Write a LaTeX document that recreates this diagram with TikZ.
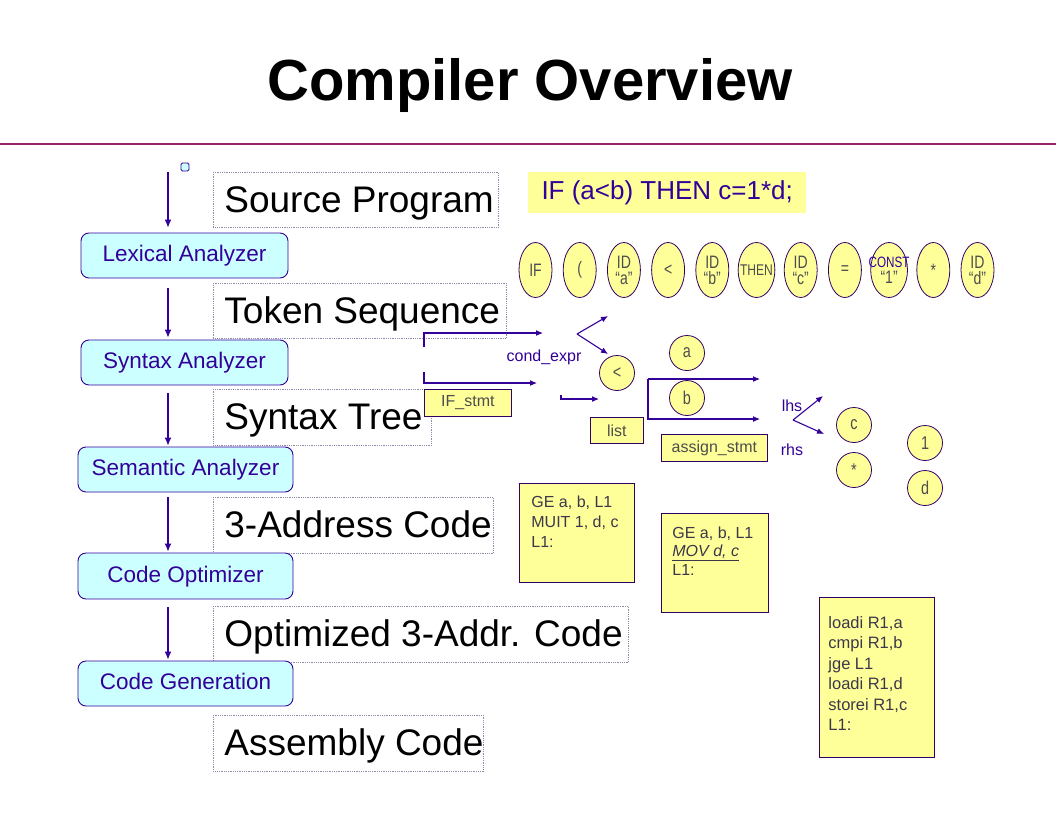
\documentclass[tikz,border=0pt]{standalone}
\usepackage{fontspec}
\setmainfont{Liberation Sans}
\newfontfamily\condfont[FakeStretch=0.78]{Liberation Sans}
\usetikzlibrary{arrows.meta,calc,shapes.geometric}
\definecolor{ink}{RGB}{51,0,153}
\definecolor{edgecol}{RGB}{51,0,102}
\definecolor{cyanfill}{RGB}{204,255,255}
\definecolor{yellowfill}{RGB}{255,255,153}
\definecolor{rulecol}{RGB}{153,32,110}
\definecolor{graytext}{RGB}{77,77,77}
\definecolor{codetext}{RGB}{60,55,75}
\definecolor{dotcol}{RGB}{140,140,170}
% a left-aligned label inside a fixed-width frame
\newcommand{\stagelabel}[2]{\makebox[#1][l]{\hspace*{11pt}#2}}
% text that may spill over the edge of its token
\newcommand{\spill}[1]{\makebox[26pt][c]{#1}}

\begin{document}
\begin{tikzpicture}[x=1pt,y=-1pt,
  phase/.style={draw=ink, fill=cyanfill, rounded corners=8pt, line width=0.9pt,
    minimum height=45pt, inner sep=0pt, text=ink, text height=16.5pt, text depth=4.5pt,
    font=\fontsize{22.5}{26}\selectfont},
  stage/.style={draw=dotcol, densely dotted, line width=0.8pt, anchor=north west,
    inner sep=0pt, text height=30pt, text depth=5pt,
    font=\fontsize{37}{44}\selectfont},
  flow/.style={draw=ink, line width=1.2pt, -{Latex[length=8pt,width=7pt]}},
  treeflow/.style={draw=ink, line width=1.1pt, -{Latex[length=7pt,width=6pt]}},
  token/.style={ellipse, draw=edgecol, fill=yellowfill, line width=0.8pt,
    minimum width=33pt, minimum height=55pt, inner sep=0pt, text=graytext,
    align=center, font=\condfont\fontsize{18}{16}\selectfont},
  leaf/.style={circle, draw=edgecol, fill=yellowfill, line width=0.8pt,
    minimum size=35pt, inner sep=0pt, text=graytext,
    font=\condfont\fontsize{18.5}{18}\selectfont},
  tag/.style={draw=edgecol, fill=yellowfill, line width=0.8pt, inner sep=0pt,
    anchor=north west, text=graytext, font=\fontsize{16}{16}\selectfont},
  codebox/.style={draw=edgecol, fill=yellowfill, line width=0.8pt, anchor=north west,
    inner ysep=0pt, text=codetext},
  edgelabel/.style={text=ink, font=\fontsize{16}{16}\selectfont, inner sep=0pt},
]
\fill[white] (0,0) rectangle (1056,816);
\useasboundingbox (0,0) rectangle (1056,816);

% title and rule
\node[anchor=base, font=\bfseries\fontsize{58}{60}\selectfont] (title) at (530,100) {Compiler Overview};
\draw[rulecol, line width=2.2pt] (0,144) -- (1056,144);

% intermediate forms
\node[stage, minimum height=55pt] (srcP) at (213,172) {\stagelabel{285pt}{Source Program}};
\node[stage, minimum height=55pt] (tok)  at (213,283) {\stagelabel{293pt}{Token Sequence}};
\node[stage, minimum height=56pt] (tree) at (213,389) {\stagelabel{218pt}{Syntax Tree}};
\node[stage, minimum height=56pt] (tac)  at (213,497) {\stagelabel{280pt}{3-Address Code}};
\node[stage, minimum height=56pt] (otac) at (213,606) {\stagelabel{415pt}{Optimized 3-Addr. Code}};
\node[stage, minimum height=56pt] (asm)  at (213,715) {\stagelabel{270pt}{Assembly Code}};

% compiler phases
\node[draw=ink, fill=cyanfill, rounded corners=1.5pt, minimum size=8pt, inner sep=0pt, line width=0.8pt] (start) at (185,167) {};
\node[phase, minimum width=207pt] (lex) at (184.5,255.5) {Lexical Analyzer};
\node[phase, minimum width=207pt] (syn) at (184.5,362.5) {Syntax Analyzer};
\node[phase, minimum width=215pt] (sem) at (185.5,469.5) {Semantic Analyzer};
\node[phase, minimum width=215pt, minimum height=46pt] (opt) at (185.5,576) {Code Optimizer};
\node[phase, minimum width=215pt] (gen) at (185.5,683.5) {Code Generation};

\coordinate (src) at (168,172);
\coordinate (ax) at (168,0);
\draw[flow, shorten >=5pt] (src) -- (src |- lex.north);
\draw[flow, shorten <=10pt, shorten >=2pt] (ax |- lex.south) -- (ax |- syn.north);
\draw[flow, shorten <=8pt, shorten >=1pt] (ax |- syn.south) -- (ax |- sem.north);
\draw[flow, shorten <=5pt, shorten >=1pt] (ax |- sem.south) -- (ax |- opt.north);
\draw[flow, shorten <=8pt, shorten >=1pt] (ax |- opt.south) -- (ax |- gen.north);

% source statement
\node[fill=yellowfill, minimum width=278pt, minimum height=41pt, inner sep=0pt, anchor=north west,
  text=ink, font=\fontsize{26}{30}\selectfont] (code) at (528,172) {IF (a<b) THEN c=1*d;};

% token stream
\node[token] (t1)  at (535.5,270) {IF};
\node[token] (t2)  at (579.7,270) {(};
\node[token] (t3)  at (623.9,270) {ID\\“a”};
\node[token] (t4)  at (668.1,270) {<};
\node[token] (t5)  at (712.3,270) {ID\\“b”};
\node[token] (t6)  at (756.5,270) {\spill{\fontsize{15.5}{16}\selectfont THEN}};
\node[token] (t7)  at (800.7,270) {ID\\“c”};
\node[token] (t8)  at (844.9,270) {=};
\node[token] (t9)  at (889.1,270) {\spill{\textcolor{ink}{\fontsize{15}{16}\selectfont CONST}}\\“1”};
\node[token] (t10) at (933.3,270) {*};
\node[token] (t11) at (977.5,270) {ID\\“d”};

% syntax tree
\node[tag, minimum width=87pt, minimum height=27pt] (ifs) at (424,389) {IF\_stmt};
\node[tag, minimum width=53pt, minimum height=26pt] (lst) at (590,417) {list};
\node[tag, minimum width=106pt, minimum height=27pt] (asg) at (661,434) {assign\_stmt};

\node[edgelabel] (ce)  at (544,357) {cond\_expr};
\node[edgelabel] (lhs) at (792,406) {lhs};
\node[edgelabel] (rhs) at (792,450) {rhs};

\node[leaf] (lt)   at (617,373) {<};
\node[leaf] (la)   at (687,353) {a};
\node[leaf] (lb)   at (687,398) {b};
\node[leaf] (lc)   at (854,425) {c};
\node[leaf] (lmul) at (854,470) {*};
\node[leaf] (lone) at (925,443) {1};
\node[leaf] (ld)   at (925,488) {d};

\coordinate (ifTop) at (424,347);
\coordinate (ifTopEnd) at (543,333);
\coordinate (ifLow) at (424,372);
\coordinate (ifLowEnd) at (537,383);
\draw[treeflow] (ifTop) |- (ifTopEnd);
\draw[treeflow] (ifLow) |- (ifLowEnd);

\coordinate (f1)  at (577,334);
\coordinate (f1a) at (608,316);
\coordinate (f1b) at (608,354);
\draw[treeflow] (f1) -- (f1a);
\draw[treeflow] (f1) -- (f1b);

\coordinate (l0) at (561,395);
\coordinate (l1) at (599,399);
\draw[treeflow] (l0) |- (l1);

\coordinate (bk) at (648,379);
\coordinate (bkTop) at (760,379);
\coordinate (bkBot) at (760,419);
\draw[treeflow] (bk) -- (bkTop);
\draw[treeflow] (bk) |- (bkBot);

\coordinate (f2)  at (793,420);
\coordinate (f2a) at (823,396);
\coordinate (f2b) at (824,434);
\draw[treeflow] (f2) -- (f2a);
\draw[treeflow] (f2) -- (f2b);

% code listings
\node[codebox, inner xsep=12pt] (tac1) at (519,483)
  {\parbox[c][99pt][t]{91pt}{\fontsize{16}{20}\selectfont\rule{0pt}{24pt}GE a, b, L1\\MUIT 1, d, c\\L1:}};
\node[codebox, inner xsep=11pt] (tac2) at (661,513)
  {\parbox[c][99pt][t]{85pt}{\fontsize{16}{18.5}\selectfont\rule{0pt}{25pt}GE a, b, L1\\\underline{\textit{MOV d, c}}\\L1:}};
\node[codebox, inner xsep=9pt] (asmc) at (819,597)
  {\parbox[c][160pt][t]{97pt}{\fontsize{16.5}{20.4}\selectfont\rule{0pt}{31pt}loadi R1,a\\cmpi R1,b\\jge L1\\loadi R1,d\\storei R1,c\\L1:}};
\end{tikzpicture}
\end{document}
